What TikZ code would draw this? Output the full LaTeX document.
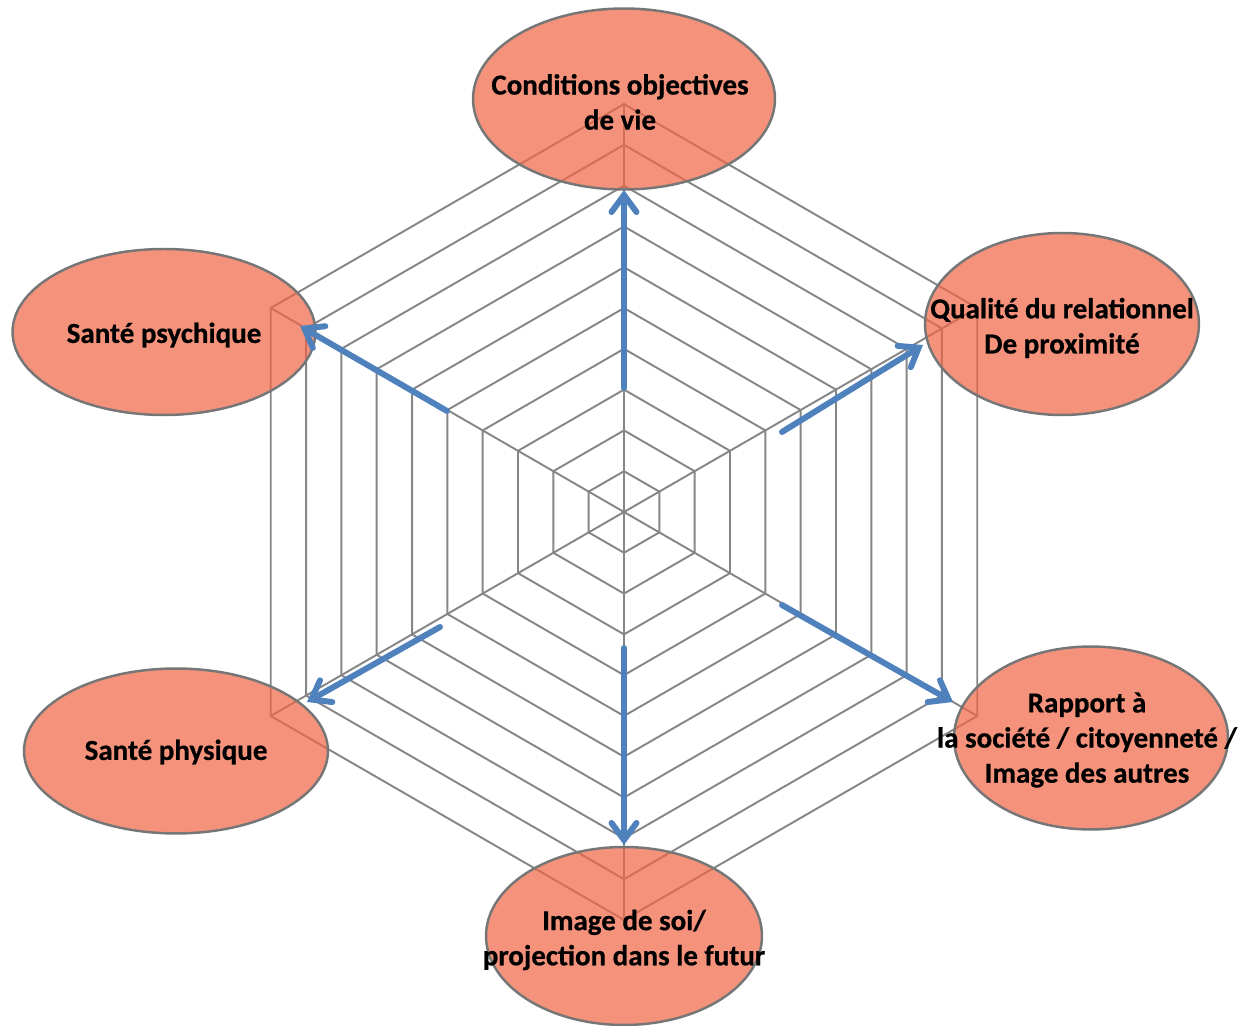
\documentclass[tikz,border=0pt]{standalone}
\usepackage{fontspec}
\setmainfont{Carlito}[BoldFeatures={FakeBold=0.6}]
\usetikzlibrary{shapes.geometric}
\usetikzlibrary{arrows.meta}

\definecolor{gridgray}{RGB}{134,134,134}
\definecolor{axisblue}{RGB}{79,129,189}
\definecolor{ovalfill}{RGB}{240,100,68}
\definecolor{ovaldraw}{RGB}{118,118,118}

\tikzset{
  gridline/.style={draw=gridgray, line width=1.1pt},
  oval/.style={ellipse, draw=ovaldraw, line width=1.4pt, fill=ovalfill, fill opacity=0.7, inner sep=0pt},
  ovaltext/.style={font=\fontsize{16.5}{20}\selectfont\bfseries, align=center, inner sep=0pt},
  axisarrow/.style={draw=axisblue, line width=3.4pt, line cap=round, -{Straight Barb[length=3.4mm, width=5mm, line cap=round]}},
}

\begin{document}
\begin{tikzpicture}[x=0.02cm, y=-0.02cm]
  \useasboundingbox (0,0) rectangle (1245,1026);
  \coordinate (c) at (624,512);

  % web: ten rings and six spokes
  \begin{scope}[shift={(c)}]
    \foreach \k in {1,...,10}
      \draw[gridline] (90:{\k*8.16mm}) -- (30:{\k*8.16mm}) -- (-30:{\k*8.16mm}) -- (-90:{\k*8.16mm}) -- (-150:{\k*8.16mm}) -- (150:{\k*8.16mm}) -- cycle;
    \foreach \a in {90,30,-30,-90,-150,150}
      \draw[gridline] (0,0) -- (\a:81.6mm);
  \end{scope}

  \node[oval, minimum width=6.04cm, minimum height=3.62cm] (cond) at (624,99) {};
  \node[oval, minimum width=5.48cm, minimum height=3.64cm] (relat) at (1062,324) {};
  \node[oval, minimum width=6.06cm, minimum height=3.32cm] (psych) at (164,332) {};
  \node[oval, minimum width=6.08cm, minimum height=3.30cm] (physq) at (176,751) {};
  \node[oval, minimum width=5.48cm, minimum height=3.66cm] (societe) at (1091,738) {};
  \node[oval, minimum width=5.52cm, minimum height=3.56cm] (image) at (624,936) {};

  % axes
  \coordinate (condS) at (624,388);   \coordinate (condT) at (624,190);
  \coordinate (relatS) at (782,432);  \coordinate (relatT) at (923,345);
  \coordinate (socS) at (782,605);    \coordinate (socT) at (953,702);
  \coordinate (imgS) at (624,648);    \coordinate (imgT) at (624,845);
  \coordinate (physS) at (440,627);   \coordinate (physT) at (307,702);
  \coordinate (psyS) at (447,411);    \coordinate (psyT) at (300,326);

  \draw[axisarrow] (condS) -- (condT);
  \draw[axisarrow] (relatS) -- (relatT);
  \draw[axisarrow] (socS) -- (socT);
  \draw[axisarrow] (imgS) -- (imgT);
  \draw[axisarrow] (physS) -- (physT);
  \draw[axisarrow] (psyS) -- (psyT);

  \node[ovaltext] (condtxt) at (620,102) {Conditions objectives\\de vie};
  \node[ovaltext] (relattxt) at (1062,328) {Qualité du relationnel\\De proximité};
  \node[ovaltext] (psychtxt) at (164,335) {Santé psychique};
  \node[ovaltext] (physqtxt) at (176,752) {Santé physique};
  \node[ovaltext] (societetxt) at (1087,740) {Rapport à\\la société / citoyenneté /\\Image des autres};
  \node[ovaltext] (imagetxt) at (624,940) {Image de soi/\\projection dans le futur};
\end{tikzpicture}
\end{document}
